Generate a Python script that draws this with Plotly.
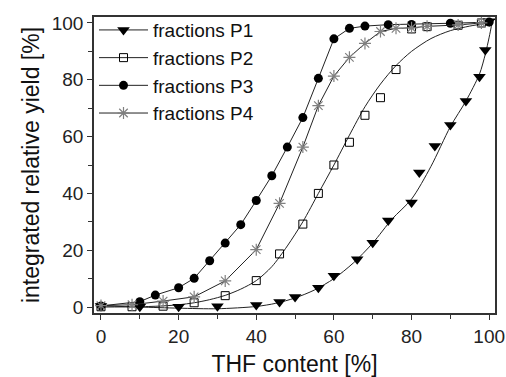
import plotly.graph_objects as go

# THF content [%] and integrated relative yield [%] for the four fraction series
p1_x = [0, 10, 20, 30, 40, 46, 50, 56, 60, 66, 70, 74, 80, 82, 86, 90, 94, 97.5, 99, 100]
p1_y = [0.4, 0.1, 0.1, 0.3, 0.7, 1.8, 3.5, 6.8, 11.0, 16.8, 22.6, 30.5, 36.8, 47.4, 56.7, 64.1, 72.5, 81.1, 90.5, 100.6]

p2_x = [0, 8, 16, 24, 32, 40, 46, 52, 56, 60, 64, 68, 72, 76, 80, 84, 92, 98]
p2_y = [0.1, 0.1, 0.3, 1.5, 4.0, 9.3, 18.7, 29.2, 40.0, 50.0, 58.0, 67.5, 73.7, 83.6, 97.9, 98.7, 99.2, 100.0]

p3_x = [0, 10, 14, 20, 24, 28, 32, 36, 40, 44, 48, 52, 56, 60, 64, 68, 74, 80, 90, 100]
p3_y = [0.4, 1.9, 4.2, 6.8, 10.1, 16.3, 22.5, 29.0, 37.5, 46.2, 56.3, 66.7, 80.5, 94.4, 98.1, 98.9, 99.4, 99.5, 99.9, 100.3]

p4_x = [0, 8, 16, 24, 32, 40, 46, 52, 56, 60, 64, 68, 72, 76, 80, 84, 92, 98]
p4_y = [0.5, 0.8, 2.1, 3.6, 9.2, 20.2, 36.5, 56.3, 70.9, 81.3, 87.9, 92.8, 97.0, 98.1, 98.3, 98.8, 99.3, 100.0]

# Fitted curves for P1 and P2
fit1_x = [0, 10, 20, 30, 40, 45, 50, 55, 60, 65, 70, 75, 80, 85, 90, 94, 97.5, 99, 100, 100.8]
fit1_y = [0.4, 0.0, -0.4, -0.6, 0.2, 1.3, 3.2, 6.0, 10.0, 15.5, 22.5, 31.0, 38.0, 49.5, 63.5, 72.5, 82.0, 89.0, 95.0, 100.5]

fit2_x = [0, 10, 16, 20, 24, 28, 32, 36, 40, 44, 48, 52, 56, 60, 64, 68, 72, 76, 80, 85, 90, 95, 100]
fit2_y = [0.0, 0.1, 0.4, 0.8, 1.5, 2.6, 4.1, 6.3, 9.3, 14.2, 21.5, 30.0, 40.0, 50.0, 60.5, 70.5, 78.5, 85.0, 90.0, 94.5, 97.3, 98.9, 100.0]

names = ["fractions P1", "fractions P2", "fractions P3", "fractions P4"]
x_ticks = [0, 20, 40, 60, 80, 100]
y_ticks = [0, 20, 40, 60, 80, 100]

FONT = "Liberation Sans, Arial, sans-serif"
LINE = "#222222"

m1 = dict(symbol="triangle-down", size=11, color="black")
m2 = dict(symbol="square-open", size=8, color="black", line=dict(width=1))
m3 = dict(symbol="circle", size=9, color="black")
m4 = dict(symbol="asterisk-open", size=10, color="#808080", line=dict(width=1.2, color="#808080"))

fig = go.Figure()

# legend entries (line + marker) for the fitted series
fig.add_trace(go.Scatter(x=[None], y=[None], mode="lines+markers", name=names[0],
                         line=dict(color=LINE, width=1), marker=m1))
fig.add_trace(go.Scatter(x=[None], y=[None], mode="lines+markers", name=names[1],
                         line=dict(color=LINE, width=1), marker=m2))

# fit lines
fig.add_trace(go.Scatter(x=fit1_x, y=fit1_y, mode="lines", showlegend=False,
                         line=dict(color=LINE, width=1, shape="spline", smoothing=0.8)))
fig.add_trace(go.Scatter(x=fit2_x, y=fit2_y, mode="lines", showlegend=False,
                         line=dict(color=LINE, width=1, shape="spline", smoothing=0.8)))

# measured points for P1 and P2
fig.add_trace(go.Scatter(x=p1_x, y=p1_y, mode="markers", showlegend=False, marker=m1))
fig.add_trace(go.Scatter(x=p2_x, y=p2_y, mode="markers", showlegend=False, marker=m2))

# P3 and P4 joined point to point
fig.add_trace(go.Scatter(x=p3_x, y=p3_y, mode="lines+markers", name=names[2],
                         line=dict(color=LINE, width=1), marker=m3))
fig.add_trace(go.Scatter(x=p4_x, y=p4_y, mode="lines+markers", name=names[3],
                         line=dict(color=LINE, width=1), marker=m4))

axis_common = dict(
    automargin=False,
    showgrid=False, zeroline=False, showline=True, mirror=True,
    linecolor="#333333", linewidth=1.5,
    ticks="outside", ticklen=5, tickwidth=1.3, tickcolor="#333333",
    tickfont=dict(family=FONT, size=19, color="#222222"),
    minor=dict(ticks="outside", ticklen=4, tickwidth=1.3, tickcolor="#333333", dtick=10),
)

fig.update_xaxes(range=[-1.8, 101.5], tickvals=x_ticks,
                 title=dict(text="THF content [%]", font=dict(family=FONT, size=23, color="#111111"), standoff=18),
                 **axis_common)
fig.update_yaxes(range=[-2.1, 102.1], tickvals=y_ticks,
                 title=dict(text="integrated relative yield [%]", font=dict(family=FONT, size=23, color="#111111"), standoff=6),
                 **axis_common)

fig.update_layout(
    width=506, height=377,
    margin=dict(l=94, r=11, t=17, b=64),
    plot_bgcolor="white", paper_bgcolor="white",
    font=dict(family=FONT, color="#111111"),
    legend=dict(x=0.0, y=1.02, xanchor="left", yanchor="top",
                bgcolor="rgba(0,0,0,0)", borderwidth=0,
                font=dict(family=FONT, size=19, color="#111111"),
                itemwidth=49, tracegroupgap=0),
)

fig.write_html("out.html")
